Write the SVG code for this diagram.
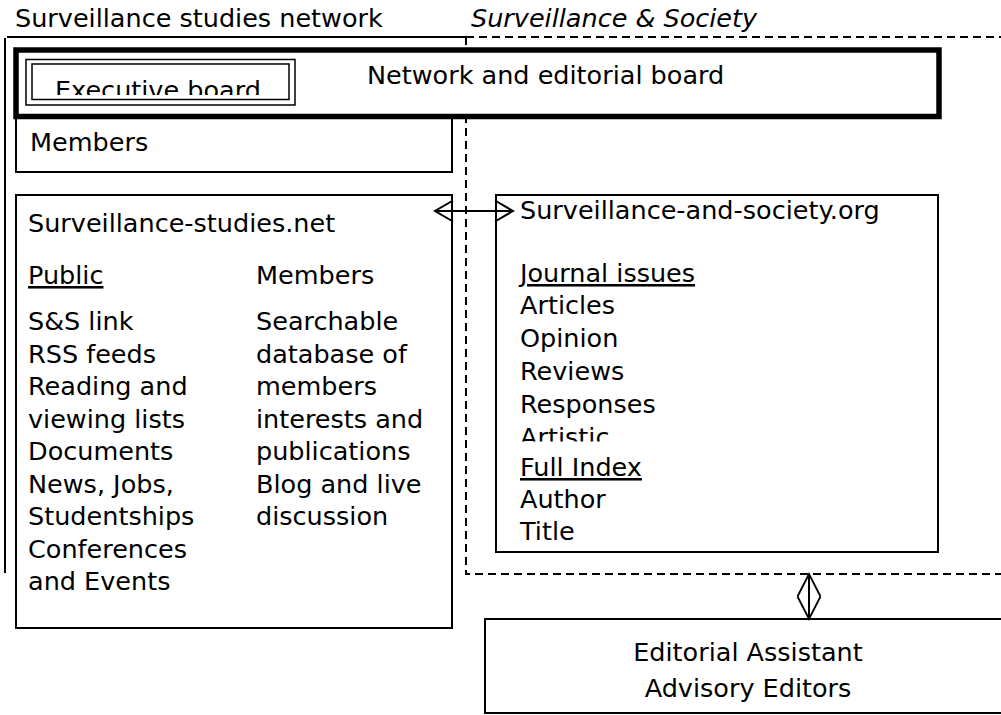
<svg xmlns="http://www.w3.org/2000/svg" width="1001" height="715" viewBox="0 0 1001 715">
<style>
text { font-family: "DejaVu Sans", "Liberation Sans", sans-serif; font-size: 25.5px; fill: #000; }
.it { font-style: italic; }
.u { text-decoration: underline; }
.box { fill: #fff; stroke: #000; stroke-width: 2; }
.line { fill: none; stroke: #000; stroke-width: 2; }
.dash { fill: none; stroke: #000; stroke-width: 2; stroke-dasharray: 8 5; }
.mid { text-anchor: middle; }
</style>
<defs>
<marker id="chev" viewBox="-22 -13 24 26" refX="0" refY="0" markerWidth="24" markerHeight="26" markerUnits="userSpaceOnUse" orient="auto-start-reverse">
<path d="M-18,-10.5 L0,0 L-18,10.5" fill="none" stroke="#000" stroke-width="2"/>
</marker>
<marker id="tri" viewBox="-25 -14 27 28" refX="0" refY="0" markerWidth="27" markerHeight="28" markerUnits="userSpaceOnUse" orient="auto-start-reverse">
<path d="M-22.5,-11.5 L0,0 L-22.5,11.5" fill="none" stroke="#000" stroke-width="1.8"/>
</marker>
<clipPath id="clipExec"><rect x="26" y="59" width="269" height="36"/></clipPath>
<clipPath id="clipArt"><rect x="500" y="400" width="300" height="41.5"/></clipPath>
</defs>

<g id="network-frame">
<text x="15" y="27">Surveillance studies network</text>
<path class="line" d="M7,37 H466 M5,38 V573"/>
</g>

<g id="society-frame">
<text class="it" x="471" y="27">Surveillance &amp; Society</text>
<path class="dash" d="M466,37 H1001 M466,37 V574 H1001"/>
</g>

<g id="members">
<rect class="box" x="16" y="116" width="436" height="56"/>
<text x="30" y="151">Members</text>
</g>

<g id="board">
<rect x="16" y="50" width="923" height="66.5" fill="#fff" stroke="#000" stroke-width="5.5"/>
<text x="367" y="84">Network and editorial board</text>
</g>

<g id="executive-board">
<rect x="26" y="59.5" width="269" height="45.5" fill="#fff" stroke="#000" stroke-width="1.5"/>
<rect x="32" y="64" width="257" height="35.5" fill="none" stroke="#000" stroke-width="1.5"/>
<text x="55" y="98.5" clip-path="url(#clipExec)">Executive board</text>
</g>

<g id="ssn-site">
<rect class="box" x="16" y="195" width="436" height="433"/>
<text x="28" y="232">Surveillance-studies.net</text>
<text class="u" x="28" y="284">Public</text>
<text x="256" y="284">Members</text>
<text x="28" y="330">S&amp;S link</text>
<text x="28" y="362.5">RSS feeds</text>
<text x="28" y="395">Reading and</text>
<text x="28" y="427.5">viewing lists</text>
<text x="28" y="460">Documents</text>
<text x="28" y="492.5">News, Jobs,</text>
<text x="28" y="525">Studentships</text>
<text x="28" y="557.5">Conferences</text>
<text x="28" y="590">and Events</text>
<text x="256" y="330">Searchable</text>
<text x="256" y="362.5">database of</text>
<text x="256" y="395">members</text>
<text x="256" y="427.5">interests and</text>
<text x="256" y="460">publications</text>
<text x="256" y="492.5">Blog and live</text>
<text x="256" y="525">discussion</text>
</g>

<g id="sas-site">
<rect class="box" x="496" y="195" width="442" height="357"/>
<text x="520" y="219">Surveillance-and-society.org</text>
<text class="u" x="520" y="282">Journal issues</text>
<text x="520" y="314">Articles</text>
<text x="520" y="347">Opinion</text>
<text x="520" y="380">Reviews</text>
<text x="520" y="413">Responses</text>
<text x="520" y="446" clip-path="url(#clipArt)">Artistic</text>
<text class="u" x="520" y="476">Full Index</text>
<text x="520" y="508">Author</text>
<text x="520" y="540">Title</text>
</g>

<g id="editorial-staff">
<rect class="box" x="485" y="619" width="530" height="94"/>
<text class="mid" x="748" y="661">Editorial Assistant</text>
<text class="mid" x="748" y="697">Advisory Editors</text>
</g>

<g id="connectors">
<line class="line" x1="435" y1="211" x2="513" y2="211" marker-start="url(#chev)" marker-end="url(#chev)"/>
<line x1="809" y1="574" x2="809" y2="619" stroke="#000" stroke-width="2" marker-start="url(#tri)" marker-end="url(#tri)"/>
</g>
</svg>
